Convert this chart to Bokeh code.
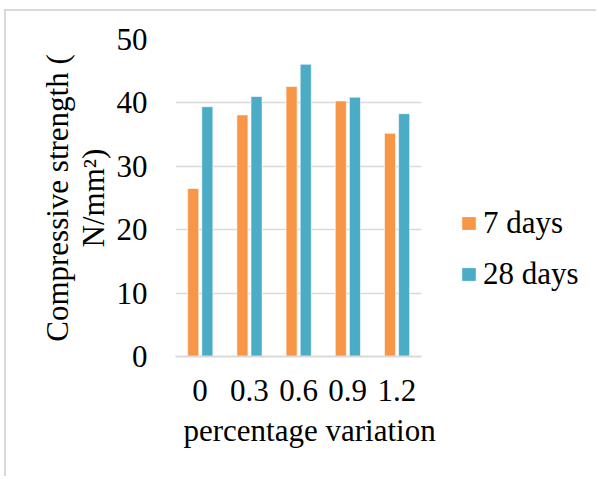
from bokeh.plotting import figure
from bokeh.layouts import row
from bokeh.models import (ColumnDataSource, FactorRange, Range1d, FixedTicker,
                          Legend, LegendItem, Title)
from bokeh.transform import dodge
from bokeh.embed import file_html
from bokeh.resources import INLINE

# ---- data ----
categories = ["0", "0.3", "0.6", "0.9", "1.2"]
days7 = [26.5, 38.1, 42.6, 40.3, 35.2]
days28 = [39.4, 41.0, 46.1, 40.9, 38.3]
y_ticks = [0, 10, 20, 30, 40, 50]
series_names = ["7 days", "28 days"]
x_title = "percentage variation"
y_title = "Compressive strength (\nN/mm\u00b2)"

FONT = "Liberation Serif"
FS = "31px"
ORANGE = "#F79646"
BLUE = "#4BACC6"
GRID = "#d9d9d9"

src = ColumnDataSource(dict(cat=categories, d7=days7, d28=days28))

H = 465
WM = 435          # main chart
WL = 155          # legend area
p = figure(x_range=FactorRange(*categories, range_padding=0),
           y_range=Range1d(0, 50),
           width=WM, height=H, output_backend="svg", toolbar_location=None,
           min_border_left=169, min_border_right=20,
           min_border_top=28, min_border_bottom=120)

r1 = p.vbar(x=dodge("cat", -0.14, range=p.x_range), top="d7", width=0.225,
            source=src, fill_color=ORANGE, line_color="white", line_alpha=0.6,
            line_width=1)
r2 = p.vbar(x=dodge("cat", 0.147, range=p.x_range), top="d28", width=0.225,
            source=src, fill_color=BLUE, line_color="white", line_alpha=0.6,
            line_width=1)

p.outline_line_color = None
p.background_fill_color = "white"
p.xgrid.grid_line_color = None
p.ygrid.grid_line_color = GRID
p.ygrid.grid_line_width = 1.5

p.yaxis.ticker = FixedTicker(ticks=y_ticks)
p.yaxis.axis_line_color = None
p.yaxis.major_tick_line_color = None
p.yaxis.minor_tick_line_color = None
p.yaxis.major_label_text_font = FONT
p.yaxis.major_label_text_font_size = FS
p.yaxis.major_label_text_color = "black"
p.yaxis.major_label_standoff = 22
p.yaxis.axis_label = y_title
p.yaxis.axis_label_text_font = FONT
p.yaxis.axis_label_text_font_size = FS
p.yaxis.axis_label_text_font_style = "normal"
p.yaxis.axis_label_text_color = "black"
p.yaxis.axis_label_text_line_height = 1.02
p.yaxis.axis_label_standoff = 3

p.xaxis.axis_line_color = GRID
p.xaxis.axis_line_width = 2
p.xaxis.major_tick_line_color = None
p.xaxis.minor_tick_line_color = None
p.xaxis.major_label_text_font = FONT
p.xaxis.major_label_text_font_size = FS
p.xaxis.major_label_text_color = "black"
p.xaxis.major_label_standoff = 17

p.add_layout(Title(text=x_title, align="left", offset=8, standoff=15,
                   text_font=FONT, text_font_size=FS, text_font_style="normal",
                   text_color="black"), "below")

# legend area (its swatch renderers sit outside the visible range)
lf = figure(width=WL, height=H, x_range=Range1d(0, 1), y_range=Range1d(0, 1),
            x_axis_type=None, y_axis_type=None, output_backend="svg",
            toolbar_location=None, min_border=0)
lf.outline_line_color = None
lf.xgrid.visible = False
lf.ygrid.visible = False
k1 = lf.vbar(x="d7", top="d7", width=0.1, source=src, fill_color=ORANGE, line_color=None)
k2 = lf.vbar(x="d28", top="d28", width=0.1, source=src, fill_color=BLUE, line_color=None)
legend = Legend(items=[LegendItem(label=series_names[0], renderers=[k1], index=0),
                       LegendItem(label=series_names[1], renderers=[k2], index=0)],
                location=(19, 64), orientation="vertical",
                background_fill_alpha=0, border_line_color=None,
                glyph_width=17, glyph_height=16, label_standoff=6,
                label_text_font=FONT, label_text_font_size=FS,
                label_text_color="black", spacing=15, padding=0, margin=0)
lf.add_layout(legend, "center")

lay = row(p, lf, spacing=0)
lay.margin = (9, 0, 0, 4)
lay.styles = {"border-left": "2px solid #d9d9d9", "border-top": "2px solid #d9d9d9"}

open("out.html", "w").write(file_html(lay, INLINE))
